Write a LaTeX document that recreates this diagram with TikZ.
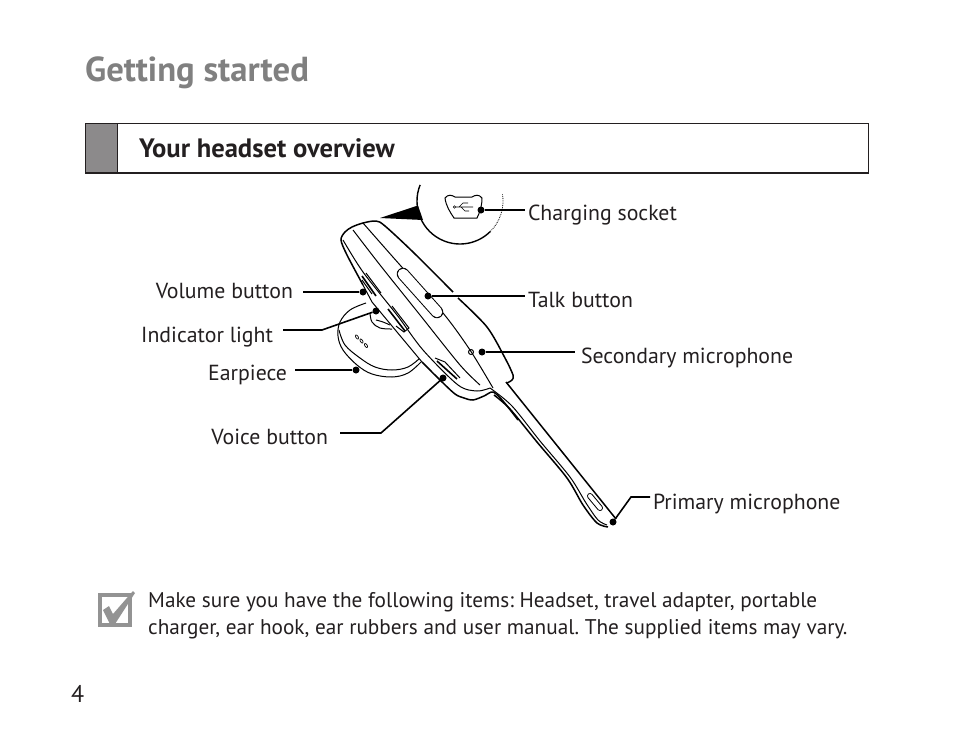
\documentclass[tikz,border=0pt]{standalone}
\usepackage{fontspec}
\usepackage{xcolor}
\setmainfont{PT Sans}
\frenchspacing
\definecolor{titlegray}{HTML}{808080}
\definecolor{tabgray}{HTML}{8C8A8B}
\definecolor{inkblack}{HTML}{231F20}
\tikzset{
  partlabel/.style={inner sep=0pt, text=inkblack, text height=14pt, text depth=4pt, font=\fontsize{21.8}{26}\selectfont},
  leader/.style={draw=black, line width=1.6pt},
  dot/.style={circle, fill=black, inner sep=0pt, minimum size=7pt},
  outline/.style={draw=black, line width=1pt},
  thickoutline/.style={draw=black, line width=1.5pt},
  slot/.style={draw=black, line width=1pt, double=white, double distance=#1, line cap=round},
}
\begin{document}
\begin{tikzpicture}[x=1pt, y=-1pt]
  \useasboundingbox (0,0) rectangle (954,742);

  \node[anchor=base west, inner sep=0pt, text=titlegray, font=\fontsize{34.7}{40}\bfseries\selectfont] (title) at (85,81) {Getting started};

  \fill[tabgray] (85,123) rectangle (117,173);
  \draw[inkblack, line width=0.9pt] (85.5,123.5) rectangle (868.5,173);
  \draw[inkblack, line width=0.9pt] (117.5,123.5) -- (117.5,173);
  \draw[inkblack, line width=1.8pt] (85,173) -- (869,173);
  \node[anchor=base west, inner sep=0pt, text=inkblack, font=\fontsize{26.6}{30}\bfseries\selectfont] (section) at (139,157) {Your headset overview};

  % earpiece
  \draw[outline] plot[smooth, tension=.6] coordinates {(366,303) (350,310) (340,322) (338,336) (343,350) (357,365) (372,374) (392,377) (408,373) (421,362)};
  \draw[outline] plot[smooth, tension=.6] coordinates {(339,330) (345,345) (360,358) (375,367) (392,370) (408,367) (420,358)};
  \foreach \hx/\hy in {357/337, 361.5/341, 366/345.5}
    \draw[draw=black, line width=0.7pt, rotate around={30:(\hx,\hy)}] (\hx,\hy) ellipse (1.2 and 2.3);
  \draw[outline] plot[smooth, tension=.6] coordinates {(370,313) (372,322) (380,328) (392,329)};
  \draw[outline] plot[smooth, tension=.6] coordinates {(376,320) (383,322) (390,325)};

  % body
  \path[fill=white] plot[smooth, tension=.5] coordinates {(341,240) (345,232) (352,227) (363,223) (376,221) (385,226) (413,252) (453,292) (487,327) (505,358) (513,375) (512,380) (507,383) (493,392) (473,400) (462,398) (422,362) (372,302) (363,284) (347,255) (341,240)};
  \draw[thickoutline] plot[smooth, tension=.5] coordinates {(363,285) (347,255) (341,240) (345,232) (352,227) (363,223) (376,221) (385,226) (413,252) (453,292)};
  \draw[thickoutline] plot[smooth, tension=.5] coordinates {(458,298) (487,327) (505,358) (513,375) (512,380) (507,383)};
  \draw[outline] (363,285) -- (372,302) -- (422,362);
  \draw[thickoutline] plot[smooth, tension=.5] coordinates {(422,362) (440,380) (455,394) (464,398) (473,400) (484,396) (493,392) (503,401) (518,420)};
  \draw[outline] plot[smooth, tension=.5] coordinates {(363,223) (400,265) (443,313) (470,350) (493,388)};
  \draw[outline] plot[smooth, tension=.5] coordinates {(343,240) (363,272) (397,315) (423,350) (458,385) (477,391) (490,388)};
  \draw[outline] plot[smooth, tension=.5] coordinates {(353,230) (380,265) (420,315) (460,365) (480,385)};

  % boom
  \draw[thickoutline] (506,382) -- (616,519);
  \draw[thickoutline] plot[smooth, tension=.5] coordinates {(494,395) (510,409) (537,442) (567,478) (583,505) (597,523) (608,527)};
  \draw[outline] plot[smooth, tension=.5] coordinates {(490,388) (512,406) (540,441) (570,477) (586,503) (598,520) (607,525)};
  \draw[slot=4pt] (590,496) -- (600,508);

  % buttons
  \draw[slot=10.5pt] (403,274) -- (437,312);
  \draw[line width=1.6pt, black] (362,276) -- (376,296);
  \draw[outline] (366,273) -- (381,293);
  \draw[outline] (362,280) -- (372,294);
  \draw[line width=1.6pt, black] (388,309) -- (405,331);
  \draw[outline] (392,306) -- (409,328) -- (404,332) -- (396,326);
  \draw[line width=1.6pt, black] (437,361) -- (457,379);
  \draw[outline] (435,358) -- (445,362) -- (460,378);
  \draw[outline] (471,352) circle (2.5);

  % inset
  \fill[black] (380,218) -- (418,205.5) -- (423,220) -- cycle;
  \draw[line width=1.4pt] (460,201) ++(202:43) arc[start angle=202, end angle=45, radius=43];
  \draw[line width=0.8pt, densely dotted] (460,201) ++(45:43) arc[start angle=45, end angle=-10, radius=43];
  \draw[outline] (445,198) .. controls (448,194) and (452,195) .. (455,197) -- (472,197) .. controls (475,195) and (479,194) .. (482,198) .. controls (482,206) and (480,212) .. (477,218) -- (454,218) .. controls (450,212) and (446,206) .. (445,198) -- cycle;
  \draw[line width=0.6pt] (456,207) -- (473,207) (459,207) -- (463,203) -- (468,203) (461,207) -- (465,211) -- (469,211);
  \draw[line width=0.6pt] (454.5,207) circle (1.3);

  % part labels
  \node[partlabel, anchor=west, outer sep=3pt] (charging) at (525,215) {Charging socket};
  \node[partlabel, anchor=west, outer sep=3pt] (talk) at (525,302) {Talk button};
  \node[partlabel, anchor=west, outer sep=6pt] (secondary) at (575,358) {Secondary microphone};
  \node[partlabel, anchor=west, outer sep=3pt] (primary) at (650,504) {Primary microphone};
  \node[partlabel, anchor=east, outer sep=10pt] (volume) at (303,293) {Volume button};
  \node[partlabel, anchor=east, outer sep=10pt] (indicator) at (283,337) {Indicator light};
  \node[partlabel, anchor=east, outer sep=8pt] (earpiece) at (295,375) {Earpiece};
  \node[partlabel, anchor=east, outer sep=12pt] (voice) at (340,439) {Voice button};

  \node[dot] (chargingdot) at (481,210) {};
  \node[dot] (talkdot) at (428,296) {};
  \node[dot] (secondarydot) at (482,352) {};
  \node[dot] (primarydot) at (613,522) {};
  \node[dot] (volumedot) at (363,292) {};
  \node[dot] (indicatordot) at (376,311) {};
  \node[dot] (earpiecedot) at (356,370) {};
  \node[dot] (voicedot) at (443,378) {};

  \coordinate (indicatorbend) at (322,330);
  \coordinate (voicebend) at (381,433);
  \coordinate (primarybend) at (631,497);

  \draw[leader] (chargingdot) -- (chargingdot -| charging.west);
  \draw[leader] (talkdot) -- (talkdot -| talk.west);
  \draw[leader] (secondarydot) -- (secondarydot -| secondary.west);
  \draw[leader] (primarydot) -- (primarybend) -- (primarybend -| primary.west);
  \draw[leader] (volumedot) -- (volumedot -| volume.east);
  \draw[leader] (indicatordot) -- (indicatorbend) -- (indicatorbend -| indicator.east);
  \draw[leader] (earpiecedot) -- (earpiecedot -| earpiece.east);
  \draw[leader] (voicedot) -- (voicebend) -- (voicebend -| voice.east);

  % note
  \draw[titlegray!85, line width=4pt] (100,595) rectangle (130,625);
  \fill[titlegray!85] (103,610) -- (109,606) -- (113,614) -- (133,591) -- (135,593) -- (115,624) -- (110,624) -- cycle;
  \node[anchor=north west, inner sep=0pt, text=inkblack, align=left, font=\fontsize{21.25}{27}\selectfont] (note) at (148,592) {Make sure you have the following items: Headset, travel adapter, portable\\charger, ear hook, ear rubbers and user manual. The supplied items may vary.};

  \node[anchor=base west, inner sep=0pt, text=inkblack, font=\fontsize{24}{28}\selectfont] (pagenumber) at (71,702) {4};
\end{tikzpicture}
\end{document}
